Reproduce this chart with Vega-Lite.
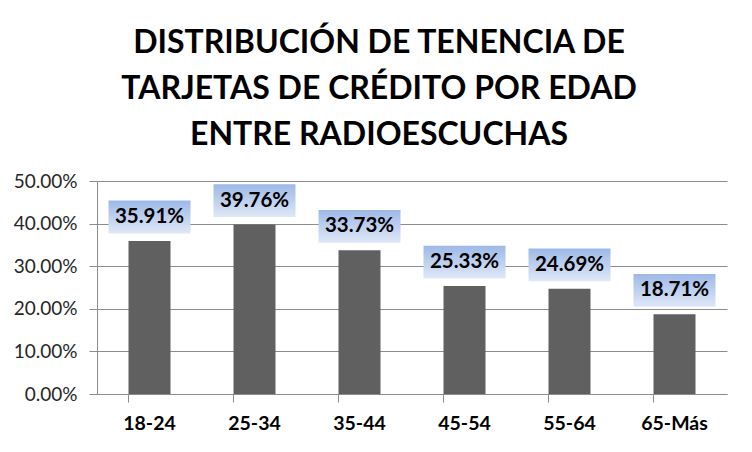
{
  "$schema": "https://vega.github.io/schema/vega-lite/v6.json",
  "autosize": "none",
  "padding": {"left": 97, "top": 181, "right": 25, "bottom": 58},
  "width": 630,
  "height": 213,
  "background": "white",
  "title": {
    "text": ["DISTRIBUCIÓN DE TENENCIA DE", "TARJETAS DE CRÉDITO POR EDAD", "ENTRE RADIOESCUCHAS"],
    "anchor": "middle",
    "frame": "group",
    "font": "Lato",
    "fontSize": 32,
    "fontWeight": "bold",
    "color": "black",
    "lineHeight": 46,
    "offset": 20,
    "dx": -33
  },
  "data": {
    "values": [
      {"edad": "18-24", "pct": 0.3591},
      {"edad": "25-34", "pct": 0.3976},
      {"edad": "35-44", "pct": 0.3373},
      {"edad": "45-54", "pct": 0.2533},
      {"edad": "55-64", "pct": 0.2469},
      {"edad": "65-Más", "pct": 0.1871}
    ]
  },
  "encoding": {
    "x": {
      "field": "edad",
      "type": "nominal",
      "sort": null,
      "scale": {"paddingInner": 0.6, "paddingOuter": 0.3},
      "axis": {
        "title": null,
        "labelAngle": 0,
        "labelFont": "Lato",
        "labelFontSize": 19.5,
        "labelFontWeight": "bold",
        "labelColor": "black",
        "labelPadding": 12,
        "domainColor": "#8c8c8c",
        "tickColor": "#8c8c8c",
        "tickSize": 8,
        "bandPosition": 0
      }
    },
    "y": {
      "field": "pct",
      "type": "quantitative",
      "scale": {"domain": [0, 0.5], "nice": false},
      "axis": {
        "title": null,
        "values": [0, 0.1, 0.2, 0.3, 0.4, 0.5],
        "format": ".2%",
        "labelFont": "Lato",
        "labelFontSize": 19,
        "labelColor": "#262626",
        "labelPadding": 12,
        "domainColor": "#8c8c8c",
        "tickColor": "#8c8c8c",
        "tickSize": 8,
        "grid": true,
        "gridColor": "#8c8c8c",
        "gridOpacity": 1
      }
    }
  },
  "layer": [
    {"mark": {"type": "bar", "color": "#606060"}},
    {
      "mark": {
        "type": "point",
        "shape": "M-1,-0.4L1,-0.4L1,0.4L-1,0.4Z",
        "size": 6724,
        "filled": true,
        "opacity": 1,
        "strokeWidth": 0,
        "yOffset": -24,
        "fill": {
          "gradient": "linear",
          "x1": 0, "y1": 0, "x2": 0, "y2": 1,
          "stops": [
            {"offset": 0, "color": "#9db8e7"},
            {"offset": 1, "color": "#dfe8f7"}
          ]
        }
      }
    },
    {
      "mark": {
        "type": "text",
        "font": "Lato",
        "fontSize": 20.5,
        "fontWeight": "bold",
        "color": "black",
        "baseline": "middle",
        "yOffset": -24
      },
      "encoding": {"text": {"field": "pct", "type": "quantitative", "format": ".2%"}}
    }
  ],
  "config": {"view": {"stroke": null}}
}
